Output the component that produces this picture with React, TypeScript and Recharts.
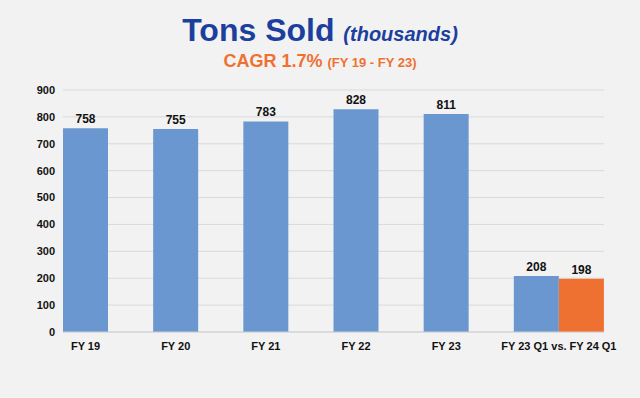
import React from "react";
import { BarChart, Bar, XAxis, YAxis, CartesianGrid, LabelList, Cell } from "recharts";

// Fiscal-year tons sold (thousands)
const categories = ["FY 19", "FY 20", "FY 21", "FY 22", "FY 23", "FY 23 Q1", "FY 24 Q1"];
const values = [758, 755, 783, 828, 811, 208, 198];
const highlight = ["FY 24 Q1"];
const yTicks = [0, 100, 200, 300, 400, 500, 600, 700, 800, 900];
const quarterLabel = "FY 23 Q1 vs. FY 24 Q1";

const BLUE = "#6b97d0";
const ORANGE = "#ef7131";
const FONT = "'Liberation Sans', Arial, sans-serif";

// annual bars are separated by an empty slot; the quarter pair sits side by side
const data: { name: string; value: number | null }[] = [];
categories.forEach((name, i) => {
  data.push({ name, value: values[i] });
  if (i < 5) data.push({ name: `gap${i}`, value: null });
});

const W = 640;
const H = 398;
const margin = { top: 90, right: 36, bottom: 46, left: 0 };
const yWidth = 63;
const slotW = (W - margin.left - margin.right - yWidth) / data.length;

function XTick({ x, y, payload }: any) {
  const v: string = payload.value;
  if (v.startsWith("gap") || v === "FY 24 Q1") return null;
  const label = v === "FY 23 Q1" ? quarterLabel : v;
  const dx = v === "FY 23 Q1" ? slotW / 2 : 0;
  return (
    <text x={x + dx} y={y + 10} textAnchor="middle" fontFamily={FONT} fontSize={11} fontWeight="bold" fill="#111">
      {label}
    </text>
  );
}

export default function App() {
  return (
    <div style={{ position: "fixed", left: 0, top: 0, width: W, height: H, background: "#f2f2f2", fontFamily: FONT }}>
      <div style={{ position: "absolute", top: 12, left: 0, width: W, textAlign: "center", color: "#1c3f9e", fontWeight: "bold", whiteSpace: "nowrap" }}>
        <span style={{ fontSize: 32 }}>Tons Sold </span>
        <span style={{ fontSize: 20, fontStyle: "italic" }}>(thousands)</span>
      </div>
      <div style={{ position: "absolute", top: 51, left: 0, width: W, textAlign: "center", color: "#ef7131", fontWeight: "bold", whiteSpace: "nowrap" }}>
        <span style={{ fontSize: 18 }}>CAGR 1.7% </span>
        <span style={{ fontSize: 13 }}>(FY 19 - FY 23)</span>
      </div>
      <BarChart width={W} height={H} data={data} margin={margin} barCategoryGap={0} style={{ position: "absolute", left: 0, top: 0 }}>
        <CartesianGrid vertical={false} stroke="#d9d9d9" />
        <XAxis
          dataKey="name"
          interval={0}
          tickLine={false}
          axisLine={{ stroke: "#cfcfcf" }}
          tick={<XTick />}
          height={20}
        />
        <YAxis
          domain={[0, 900]}
          ticks={yTicks}
          width={yWidth}
          tickLine={false}
          axisLine={false}
          tick={{ fontFamily: FONT, fontSize: 11, fontWeight: "bold", fill: "#111" }}
        />
        <Bar dataKey="value" isAnimationActive={false}>
          {data.map((d) => (
            <Cell key={d.name} fill={highlight.includes(d.name) ? ORANGE : BLUE} />
          ))}
          <LabelList
            dataKey="value"
            position="top"
            offset={5}
            style={{ fontFamily: FONT, fontSize: 12, fontWeight: "bold", fill: "#111" }}
          />
        </Bar>
      </BarChart>
    </div>
  );
}
